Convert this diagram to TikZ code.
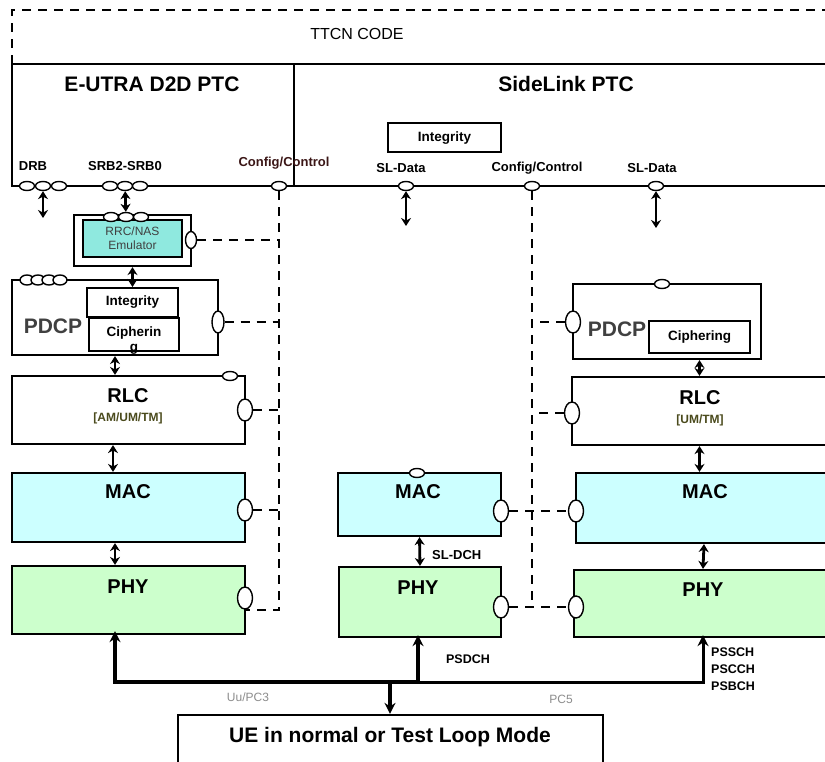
\documentclass[tikz,border=0pt]{standalone}
\usepackage{fontspec}
\setmainfont{Liberation Sans}
\usetikzlibrary{arrows.meta,shapes.geometric}

\definecolor{maccol}{HTML}{CCFFFF}
\definecolor{phycol}{HTML}{CCFFCC}
\definecolor{rrccol}{HTML}{8FE9DF}
\definecolor{cfgcol}{HTML}{3B1616}
\definecolor{pdcpcol}{HTML}{404040}
\definecolor{modecol}{HTML}{4A4A1C}
\definecolor{ifcol}{HTML}{8C8C8C}

\begin{document}
\begin{tikzpicture}[x=1pt, y=-1pt, >={Stealth[length=8pt,width=10pt]}]
    % gaya
    \tikzstyle{box}=[draw, line width=2.2pt, inner sep=0pt]
    \tikzstyle{subbox}=[draw, line width=2pt, inner sep=0pt, fill=white]
    \tikzstyle{port}=[ellipse, draw, fill=white, line width=1.4pt, inner sep=0pt, minimum width=15pt, minimum height=9pt]
    \tikzstyle{vport}=[port, minimum width=13pt, minimum height=22pt]
    \tikzstyle{ctrl}=[line width=2.2pt, dash pattern=on 9pt off 7pt]
    \tikzstyle{twoway}=[<->, line width=2.8pt]
    \tikzstyle{bus}=[line width=4pt, >={Stealth[length=11pt,width=11pt]}]
    \tikzstyle{ptc}=[font=\fontsize{21}{24}\selectfont\bfseries]
    \tikzstyle{layer}=[font=\fontsize{20}{22}\selectfont\bfseries]
    \tikzstyle{sap}=[font=\fontsize{13}{15}\selectfont\bfseries, inner sep=0pt]
    \tikzstyle{func}=[font=\fontsize{13.5}{16}\selectfont\bfseries, inner sep=0pt]
    \tikzstyle{mode}=[font=\fontsize{12}{14}\selectfont\bfseries, text=modecol, inner sep=0pt]
    \tikzstyle{chan}=[font=\fontsize{12.5}{17}\selectfont\bfseries, inner sep=0pt, align=left]
    \tikzstyle{iface}=[font=\fontsize{12}{14}\selectfont, text=ifcol, inner sep=0pt]

    \useasboundingbox (0,0) rectangle (825,762);
    \clip (0,0) rectangle (825,762);

    % TTCN
    \draw[ctrl, line width=1.8pt] (12,64) -- (12,10) -- (830,10);
    \node[font=\fontsize{16}{18}\selectfont] (ttcn) at (357,34) {TTCN CODE};

    % PTC
    \node[box, minimum width=282pt, minimum height=122pt] (eutra) at (153,125) {};
    \node[box, minimum width=560pt, minimum height=122pt] (sl) at (574,125) {};
    \node[ptc] (eutraT) at (152,84) {E-UTRA D2D PTC};
    \node[ptc] (slT) at (566,84) {SideLink PTC};
    \node[subbox, minimum width=113pt, minimum height=29pt, func] (intSL) at (444.5,138) {Integrity};

    % SAP
    \foreach \x/\n in {27/1,43/2,59/3} \node[port] (drb\n) at (\x,186) {};
    \foreach \x/\n in {110/1,125/2,140/3} \node[port] (srb\n) at (\x,186) {};
    \node[port] (cfgA) at (279,186) {};
    \node[port] (sldA) at (406,186) {};
    \node[port] (cfgB) at (532,186) {};
    \node[port] (sldB) at (656,186) {};
    \node[sap] (drbT) at (33,166) {DRB};
    \node[sap] (srbT) at (125,166) {SRB2-SRB0};
    \node[sap, text=cfgcol] (cfgAT) at (284,163) {Config/Control};
    \node[sap] (sldAT) at (401,168) {SL-Data};
    \node[sap] (cfgBT) at (537,168) {Config/Control};
    \node[sap] (sldBT) at (652,168) {SL-Data};
    \coordinate (drbEnd) at (43,218);
    \coordinate (sldAEnd) at (406,226);
    \coordinate (sldBEnd) at (656,228);

    % RRC/NAS
    \node[box, minimum width=117pt, minimum height=51pt] (rrc) at (132.5,240.5) {};
    \node[box, fill=rrccol, minimum width=99pt, minimum height=37pt, align=center,
          font=\fontsize{12}{14}\selectfont, text=pdcpcol] (emu) at (132.5,238.5) {RRC/NAS\\Emulator};
    \foreach \x/\n in {111/1,126/2,141/3} \node[port] (rrc\n) at (\x,217) {};
    \node[vport, minimum width=11pt, minimum height=17pt] (pRrc) at (191,240) {};

    % E-UTRA
    \node[box, minimum width=206pt, minimum height=75pt] (pdcpA) at (115,317.5) {};
    \foreach \x/\n in {27/1,38/2,49/3,60/4} \node[port, minimum width=14pt, minimum height=10pt] (pdq\n) at (\x,280) {};
    \node[subbox, minimum width=91pt, minimum height=29pt, func] (intA) at (132.5,302.5) {Integrity};
    \node[subbox, minimum width=90pt, minimum height=33pt] (ciphA) at (134,334.5) {};
    \node[func, align=center] (ciphAT) at (134,341) {Cipherin\\[-1pt]g};
    \node[layer, text=pdcpcol, font=\fontsize{21}{24}\selectfont\bfseries] (pdcpAT) at (53,326) {PDCP};
    \node[vport, minimum width=12pt] (pPdcpA) at (218,322) {};

    \node[box, minimum width=233pt, minimum height=68pt] (rlcA) at (128.5,410) {};
    \node[port] (rlcAq) at (230,376) {};
    \node[layer] (rlcAT) at (128,396) {RLC};
    \node[mode] (rlcAM) at (128,418) {[AM/UM/TM]};
    \node[vport, minimum width=15pt] (pRlcA) at (245,410) {};

    \node[box, fill=maccol, minimum width=233pt, minimum height=69pt] (macA) at (128.5,507.5) {};
    \node[layer] (macAT) at (128,492) {MAC};
    \node[vport, minimum width=15pt] (pMacA) at (245,510) {};

    \node[box, fill=phycol, minimum width=233pt, minimum height=68pt] (phyA) at (128.5,600) {};
    \node[layer] (phyAT) at (128,587) {PHY};
    \node[vport, minimum width=15pt] (pPhyA) at (245,598) {};

    % SL tengah
    \node[box, fill=maccol, minimum width=163pt, minimum height=63pt] (macB) at (419.5,504.5) {};
    \node[port] (macBq) at (417,473) {};
    \node[layer] (macBT) at (418,492) {MAC};
    \node[vport, minimum width=15pt] (pMacB) at (501,511) {};
    \node[box, fill=phycol, minimum width=162pt, minimum height=70pt] (phyB) at (420,602) {};
    \node[layer] (phyBT) at (418,588) {PHY};
    \node[vport, minimum width=15pt] (pPhyB) at (501,607) {};
    \node[sap, anchor=west] (sldch) at (432,555) {SL-DCH};

    % SL kanan
    \node[box, minimum width=188pt, minimum height=75pt] (pdcpC) at (667,321.5) {};
    \node[port] (pdcpCq) at (662,284) {};
    \node[subbox, minimum width=101pt, minimum height=32pt, func] (ciphC) at (699.5,337) {Ciphering};
    \node[layer, text=pdcpcol, font=\fontsize{21}{24}\selectfont\bfseries] (pdcpCT) at (617,329) {PDCP};
    \node[vport, minimum width=15pt] (pPdcpC) at (573,322) {};

    \node[box, minimum width=278pt, minimum height=68pt] (rlcC) at (711,411) {};
    \node[layer] (rlcCT) at (700,398) {RLC};
    \node[mode] (rlcCM) at (700,420) {[UM/TM]};
    \node[vport, minimum width=15pt] (pRlcC) at (572,413) {};

    \node[box, fill=maccol, minimum width=274pt, minimum height=70pt] (macC) at (713,508) {};
    \node[layer] (macCT) at (705,492) {MAC};
    \node[vport, minimum width=15pt] (pMacC) at (576,511) {};

    \node[box, fill=phycol, minimum width=276pt, minimum height=67pt] (phyC) at (712,603.5) {};
    \node[layer] (phyCT) at (703,590) {PHY};
    \node[vport, minimum width=15pt] (pPhyC) at (576,607) {};

    % UE
    \node[box, minimum width=425pt, minimum height=65pt] (ue) at (390.5,747.5) {};
    \node[font=\fontsize{21}{24}\selectfont\bfseries] (ueT) at (390,737) {UE in normal or Test Loop Mode};

    % kontrol (garis putus-putus)
    \draw[ctrl] (cfgA) -- (cfgA |- pPhyA.south) -- (pPhyA.south);
    \draw[ctrl] (pRrc) -- (pRrc -| cfgA);
    \draw[ctrl] (pPdcpA) -- (pPdcpA -| cfgA);
    \draw[ctrl] (pRlcA) -- (pRlcA -| cfgA);
    \draw[ctrl] (pMacA) -- (pMacA -| cfgA);
    \draw[ctrl] (cfgB) -- (cfgB |- pPhyB);
    \draw[ctrl] (pPdcpC) -- (pPdcpC -| cfgB);
    \draw[ctrl] (pRlcC) -- (pRlcC -| cfgB);
    \draw[ctrl] (pMacB) -- (pMacC);
    \draw[ctrl] (pPhyB) -- (pPhyC);

    % panah
    \draw[twoway] (drb2) -- (drbEnd);
    \draw[twoway] (srb2) -- (rrc2);
    \draw[twoway] (sldA) -- (sldAEnd);
    \draw[twoway] (sldB) -- (sldBEnd);
    \draw[twoway] (emu.south |- rrc.south) -- (intA.north);
    \draw[twoway] (pdcpA.south) -- (pdcpA.south |- rlcA.north);
    \draw[twoway] ([xshift=-15.5pt]rlcA.south) -- ([xshift=-15.5pt]macA.north);
    \draw[twoway] ([xshift=-13.5pt]macA.south) -- ([xshift=-13.5pt]phyA.north);
    \draw[twoway] (macB.south) -- (phyB.north);
    \draw[twoway] (pdcpC.south -| ciphC) -- (rlcC.north -| ciphC);
    \draw[twoway] (rlcC.south -| ciphC) -- (macC.north -| ciphC);
    \draw[twoway] ([xshift=-9pt]macC.south) -- ([xshift=-9pt]phyC.north);

    % bus bawah
    \coordinate (busL) at (115,682);
    \coordinate (busM) at (390,682);
    \coordinate (busS) at (418,682);
    \coordinate (busR) at (703,682);
    \draw[bus, ->] (busM) -- (ue.north -| busM);
    \draw[bus, <-] ([yshift=4pt]phyA.south -| busL) -- (busL) -- (busS);
    \draw[bus, ->] (busS) -- ([yshift=3pt]phyB.south -| busS);
    \draw[bus, line width=3pt, <-] ([yshift=3pt]phyC.south -| busR) -- (busR) -- (busS);
    \node[iface] (uu) at (248,697) {Uu/PC3};
    \node[iface] (pc5) at (561,699) {PC5};
    \node[chan] (psdch) at (468,659) {PSDCH};
    \node[chan, anchor=north west] (pssch) at (711,648) {PSSCH\\PSCCH\\PSBCH};
\end{tikzpicture}
\end{document}
